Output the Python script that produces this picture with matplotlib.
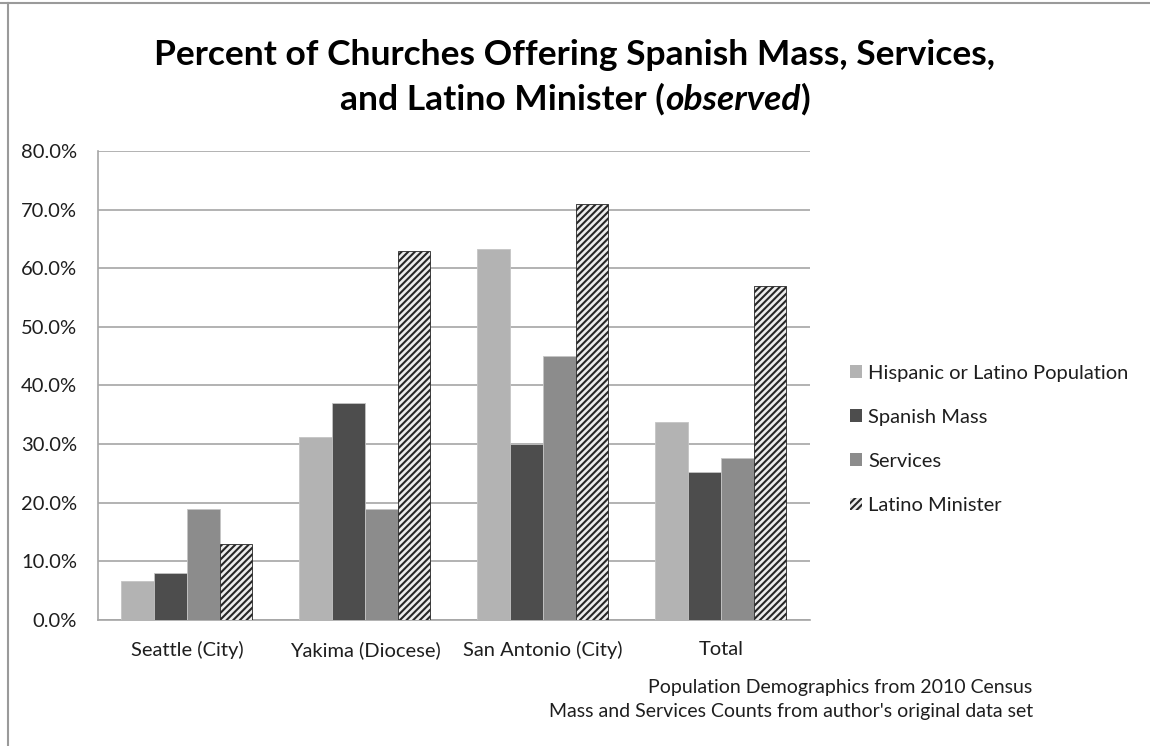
import matplotlib
matplotlib.use("Agg")
import matplotlib.pyplot as plt
import matplotlib.patches as mpatches
from matplotlib.lines import Line2D
from matplotlib.ticker import FuncFormatter
import numpy as np

categories = ["Seattle (City)", "Yakima (Diocese)", "San Antonio (City)", "Total"]
series_names = ["Hispanic or Latino Population", "Spanish Mass", "Services", "Latino Minister"]
hispanic_pop = [6.6, 31.3, 63.2, 33.8]
spanish_mass = [8.0, 37.0, 30.0, 25.2]
services = [19.0, 19.0, 45.0, 27.6]
latino_minister = [13.0, 63.0, 71.0, 57.0]
y_ticks = [0, 10, 20, 30, 40, 50, 60, 70, 80]

title_line1 = "Percent of Churches Offering Spanish Mass, Services,"
title_line2 = ["and Latino Minister (", "observed", ")"]
footnotes = ["Population Demographics from 2010 Census",
             "Mass and Services Counts from author's original data set"]

TEXT_FONT = ["Lato", "DejaVu Sans"]
TEXT_COLOR = "#1e1e1e"
LABEL_SIZE = 14.5
TITLE_SIZE = 25.5

plt.rcParams["hatch.linewidth"] = 1.5

fig = plt.figure(figsize=(11.5, 7.46), dpi=100)
ax = fig.add_axes([0.0852, 0.1689, 0.6191, 0.6287])

values = [hispanic_pop, spanish_mass, services, latino_minister]
styles = [
    dict(facecolor="#b3b3b3", hatch=None, edgecolor="#c4c4c4"),
    dict(facecolor="#4d4d4d", hatch=None, edgecolor="#c4c4c4"),
    dict(facecolor="#8c8c8c", hatch=None, edgecolor="#c4c4c4"),
    dict(facecolor="#ececec", hatch="/////", edgecolor="#262626"),
]

x = np.arange(len(categories))
bw = 0.184
handles = []
for i, (vals, st) in enumerate(zip(values, styles)):
    offs = (i - 1.5) * bw
    ax.bar(x + offs, vals, width=bw, facecolor=st["facecolor"], hatch=st["hatch"],
           edgecolor=st["edgecolor"], linewidth=0.6, zorder=3)
    handles.append(mpatches.Patch(facecolor=st["facecolor"], hatch=st["hatch"],
                                  edgecolor=st["edgecolor"], linewidth=0,
                                  label=series_names[i]))

ax.set_xlim(-0.5, len(categories) - 0.5)
ax.set_ylim(0, 80)
ax.set_yticks(y_ticks)
ax.yaxis.set_major_formatter(FuncFormatter(lambda v, p: f"{v:.1f}%"))
ax.set_xticks(x)
ax.set_xticklabels(categories)
ax.yaxis.grid(True, color="#a6a6a6", linewidth=1.2, zorder=0)
ax.set_axisbelow(True)

for s in ["top", "right"]:
    ax.spines[s].set_visible(False)
for s in ["left", "bottom"]:
    ax.spines[s].set_color("#a6a6a6")
    ax.spines[s].set_linewidth(1.2)
ax.tick_params(axis="both", length=0, labelsize=LABEL_SIZE, colors=TEXT_COLOR)
ax.tick_params(axis="y", pad=15)
ax.tick_params(axis="x", pad=15)
for lbl in ax.get_xticklabels() + ax.get_yticklabels():
    lbl.set_family(TEXT_FONT)

leg = fig.legend(handles=handles, loc="center left", bbox_to_anchor=(0.739, 0.411),
                 frameon=False, prop={"family": TEXT_FONT, "size": LABEL_SIZE},
                 handlelength=0.6, handleheight=0.6, handletextpad=0.3,
                 labelspacing=1.35, borderpad=0, borderaxespad=0)
for t in leg.get_texts():
    t.set_color(TEXT_COLOR)

# title, line 2 has an italic word so it is built from pieces
fig.text(0.5, 0.9129, title_line1, ha="center", va="baseline", fontsize=TITLE_SIZE,
         fontweight="bold", family=TEXT_FONT)
renderer = fig.canvas.get_renderer()
pieces = []
for j, part in enumerate(title_line2):
    t = fig.text(0, 0.8525, part, ha="left", va="baseline", fontsize=TITLE_SIZE,
                 fontweight="bold", style="italic" if j == 1 else "normal",
                 family=TEXT_FONT)
    pieces.append(t)
widths = [p.get_window_extent(renderer).width for p in pieces]
fig_w = fig.get_figwidth() * fig.dpi
start = 0.5 * fig_w - sum(widths) / 2
for p, w in zip(pieces, widths):
    p.set_x(start / fig_w)
    start += w

fig.text(0.898, 1 - 688 / 746, footnotes[0], ha="right", va="center",
         fontsize=14, family=TEXT_FONT, color=TEXT_COLOR)
fig.text(0.898, 1 - 711 / 746, footnotes[1], ha="right", va="center",
         fontsize=14, family=TEXT_FONT, color=TEXT_COLOR)

# page border lines from the source document
fig.add_artist(Line2D([0, 1], [0.996, 0.996], color="#9a9a9a", linewidth=1.5,
                      transform=fig.transFigure))
fig.add_artist(Line2D([0.007, 0.007], [0, 0.996], color="#9a9a9a", linewidth=1.5,
                      transform=fig.transFigure))

fig.savefig("out.png", dpi=100)
